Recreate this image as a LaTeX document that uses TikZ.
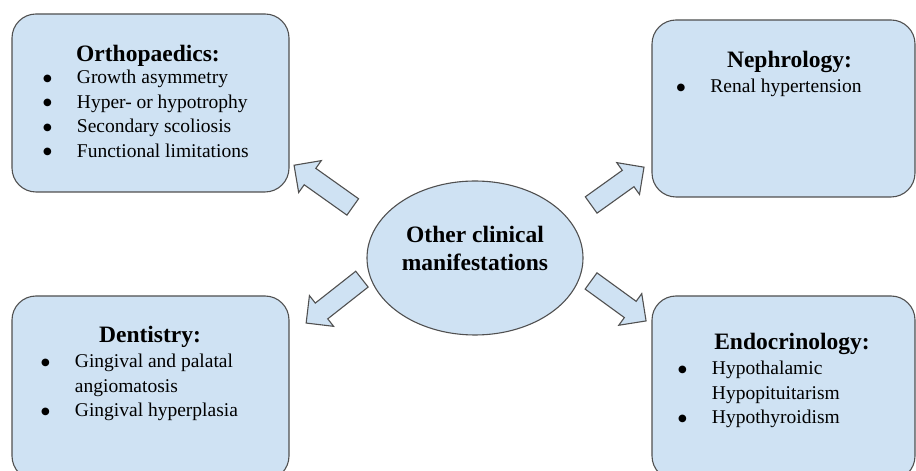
\documentclass[tikz,border=0pt]{standalone}
\usepackage{fontspec}
\setmainfont{Liberation Serif}
\newfontfamily\symfont{DejaVu Sans}
\usepackage{xcolor}
\usepackage{tikz}
\usetikzlibrary{shapes.geometric, shapes.arrows}

\definecolor{boxfill}{HTML}{CFE2F3}
\definecolor{boxline}{HTML}{505050}
\newcommand{\blt}{\raisebox{2.5pt}{\symfont\fontsize{10}{10}\selectfont ●}}

\begin{document}
\begin{tikzpicture}[
  x=1pt, y=1pt,
  box/.style={rectangle, rounded corners=24pt, draw=boxline, line width=1.1pt, fill=boxfill},
  hub/.style={ellipse, draw=boxline, line width=1.1pt, fill=boxfill, minimum width=216pt, minimum height=154pt},
  title/.style={anchor=base, inner sep=0pt, font=\fontsize{23.5}{28}\selectfont\bfseries},
  list/.style={anchor=base west, inner sep=0pt, font=\fontsize{19.5}{24.4}\selectfont},
  blockarrow/.style={single arrow, draw=boxline, line width=1.1pt, fill=boxfill, inner xsep=0pt, inner ysep=9.5pt, single arrow head extend=9.5pt}
]
\useasboundingbox (0,0) rectangle (916,471);
\clip (0,0) rectangle (916,471);

% boxes
\node[box, minimum width=277pt, minimum height=178pt] (ortho) at (150.5,368) {};
\node[box, minimum width=263pt, minimum height=177pt] (nephro) at (783.5,362.5) {};
\node[box, minimum width=277pt, minimum height=184pt] (dent) at (150.5,83) {};
\node[box, minimum width=263pt, minimum height=184pt] (endo) at (783.5,83) {};
\node[hub] (clin) at (475,213) {};

% texts
\node[title] (ortho-t) at (148,409) {Orthopaedics:};
\node[list] (ortho-l) at (43,387) {\begin{tabular}[t]{@{}c@{\hspace{25pt}}l@{}}
  \blt & Growth asymmetry\\
  \blt & Hyper- or hypotrophy\\
  \blt & Secondary scoliosis\\
  \blt & Functional limitations
\end{tabular}};

\node[title] (nephro-t) at (789.5,403) {Nephrology:};
\node[list] (nephro-l) at (676.5,378) {\begin{tabular}[t]{@{}c@{\hspace{25pt}}l@{}}
  \blt & Renal hypertension
\end{tabular}};

\node[title] (dent-t) at (150,128) {Dentistry:};
\node[list] (dent-l) at (41,103) {\begin{tabular}[t]{@{}c@{\hspace{25pt}}l@{}}
  \blt & Gingival and palatal\\
       & angiomatosis\\
  \blt & Gingival hyperplasia
\end{tabular}};

\node[title] (endo-t) at (792,121) {Endocrinology:};
\node[list] (endo-l) at (678,96) {\begin{tabular}[t]{@{}c@{\hspace{25pt}}l@{}}
  \blt & Hypothalamic\\
       & Hypopituitarism\\
  \blt & Hypothyroidism
\end{tabular}};

\node[title, anchor=center, align=center] (clin-t) at ([yshift=10pt]clin.center) {Other clinical\\manifestations};

% block arrows
\node[blockarrow, minimum height=72pt, rotate=144.6] (to-ortho) at (327.5,282) {};
\node[blockarrow, minimum height=65pt, rotate=35.6] (to-nephro) at (613.5,282) {};
\node[blockarrow, minimum height=71pt, rotate=218.2] (to-dent) at (338,173) {};
\node[blockarrow, minimum height=68pt, rotate=-36] (to-endo) at (614.5,173) {};
\end{tikzpicture}
\end{document}
